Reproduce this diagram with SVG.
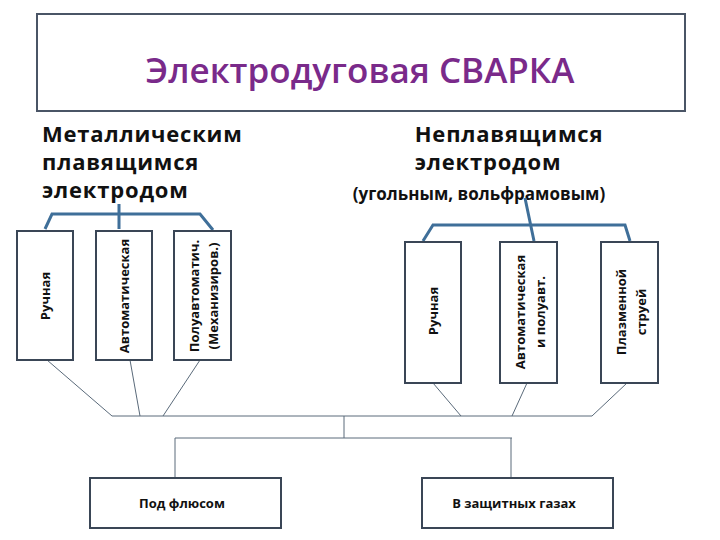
<svg xmlns="http://www.w3.org/2000/svg" width="720" height="540" viewBox="0 0 720 540">
<style>
.box{fill:#fff;stroke:#3a4656;stroke-width:2}
.br{fill:none;stroke:#3f6f99;stroke-width:3}
.ln{fill:none;stroke:#5a6a7a;stroke-width:1}
.h{font-family:"Open Sans","DejaVu Sans",sans-serif;font-weight:bold;font-size:22px;letter-spacing:0.8px;fill:#111}
.s{font-family:"Open Sans","DejaVu Sans",sans-serif;font-weight:bold;font-size:17px;fill:#111}
.v{font-family:"Open Sans","DejaVu Sans",sans-serif;font-weight:bold;font-size:13px;fill:#111}
</style>
<rect width="720" height="540" fill="#fff"/>
<g id="title"><rect x="37" y="14" width="648" height="97" fill="#fff" stroke="#4a5566" stroke-width="2"/>
<text x="360" y="83" text-anchor="middle" font-family="'Open Sans','DejaVu Sans',sans-serif" font-weight="600" font-size="35" fill="#7a2a8a">Электродуговая СВАРКА</text></g>
<g id="h-left"><text class="h" x="42" y="142">Металлическим</text><text class="h" x="42" y="170">плавящимся</text><text class="h" x="42" y="198">электродом</text></g>
<g id="h-right"><text class="h" x="509" y="142" text-anchor="middle" font-size="24">Неплавящимся</text><text class="h" x="488" y="170" text-anchor="middle" font-size="24">электродом</text><text class="s" x="479" y="200" text-anchor="middle">(угольным, вольфрамовым)</text></g>
<g id="connectors">
<path class="br" d="M45 229 L52 214 L200 214 L213 230 M119 204 L119 229"/>
<path class="br" d="M423 241 L433 225 L625 225 L630 241 M525 198 L534 241"/>
<path class="ln" d="M47 360 L112 416 M130 360 L140 416 M200 360 L163 416 M433 383 L461 416 M527 383 L512 416 M627 383 L592 416 M112 416 L592 416 M344 416 L344 438 M175 438 L512 438 M175 438 L175 478 M511 438 L511 478"/>
</g>
<g id="n1"><rect class="box" x="17" y="231" width="56" height="129"/><text class="v" transform="translate(50,296) rotate(-90)" text-anchor="middle">Ручная</text></g>
<g id="n2"><rect class="box" x="96" y="231" width="56" height="129"/><text class="v" transform="translate(129,296) rotate(-90)" text-anchor="middle">Автоматическая</text></g>
<g id="n3"><rect class="box" x="174" y="231" width="57" height="129"/><text class="v" transform="translate(199,296) rotate(-90)" text-anchor="middle">Полуавтоматич.</text><text class="v" transform="translate(218,296) rotate(-90)" text-anchor="middle">(Механизиров.)</text></g>
<g id="n4"><rect class="box" x="405" y="242" width="56" height="141"/><text class="v" transform="translate(438,311) rotate(-90)" text-anchor="middle">Ручная</text></g>
<g id="n5"><rect class="box" x="500" y="242" width="57" height="141"/><text class="v" transform="translate(525,312) rotate(-90)" text-anchor="middle">Автоматическая</text><text class="v" transform="translate(545,312) rotate(-90)" text-anchor="middle">и полуавт.</text></g>
<g id="n6"><rect class="box" x="601" y="242" width="57" height="141"/><text class="v" transform="translate(626,312) rotate(-90)" text-anchor="middle">Плазменной</text><text class="v" transform="translate(646,312) rotate(-90)" text-anchor="middle">струей</text></g>
<g id="n7"><rect class="box" x="90" y="478" width="191" height="50"/><text class="v" x="182" y="508" text-anchor="middle">Под флюсом</text></g>
<g id="n8"><rect class="box" x="422" y="478" width="191" height="50"/><text class="v" x="514" y="508" text-anchor="middle">В защитных газах</text></g>
</svg>
